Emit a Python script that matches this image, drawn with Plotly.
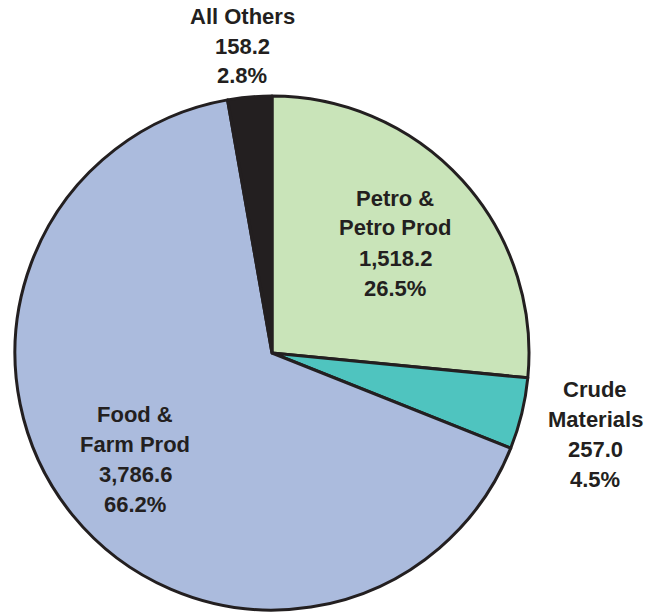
import plotly.graph_objects as go

# Slice data, clockwise from 12 o'clock
categories = ["Petro & Petro Prod", "Crude Materials", "Food & Farm Prod", "All Others"]
values = [1518.2, 257.0, 3786.6, 158.2]
colors = ["#c9e4b9", "#4fc4bf", "#abbbdd", "#231f20"]

# Label text lines per slice
label_lines = {
    "Petro & Petro Prod": ["Petro &", "Petro Prod"],
    "Crude Materials": ["Crude", "Materials"],
    "Food & Farm Prod": ["Food &", "Farm Prod"],
    "All Others": ["All Others"],
}
# Label block anchor (centre x, first line y) in pixels
label_pos = {
    "Petro & Petro Prod": (395, 198),
    "Crude Materials": (595, 389),
    "Food & Farm Prod": (135, 414),
    "All Others": (242, 16),
}

W, H = 648, 613
LINE = 30
total = sum(values)

fig = go.Figure(
    go.Pie(
        labels=categories,
        values=values,
        sort=False,
        direction="clockwise",
        rotation=0,
        marker=dict(colors=colors, line=dict(color="#231f20", width=3)),
        textinfo="none",
        hoverinfo="label+value+percent",
        showlegend=False,
        domain=dict(x=[15 / W, 529 / W], y=[1 - 610 / H, 1 - 96 / H]),
    )
)

annotations = []
for cat, val in zip(categories, values):
    lines = label_lines[cat] + [f"{val:,.1f}", f"{val / total * 100:.1f}%"]
    cx, cy = label_pos[cat]
    for i, txt in enumerate(lines):
        annotations.append(
            dict(
                x=cx / W,
                y=1 - (cy + i * LINE) / H,
                xref="paper",
                yref="paper",
                text=f"<b>{txt}</b>",
                showarrow=False,
                xanchor="center",
                yanchor="middle",
                font=dict(family="Liberation Sans, Arial, sans-serif", size=22, color="#231f20"),
            )
        )

fig.update_layout(
    width=W,
    height=H,
    margin=dict(l=0, r=0, t=0, b=0),
    paper_bgcolor="white",
    plot_bgcolor="white",
    annotations=annotations,
)

fig.write_html("out.html")
